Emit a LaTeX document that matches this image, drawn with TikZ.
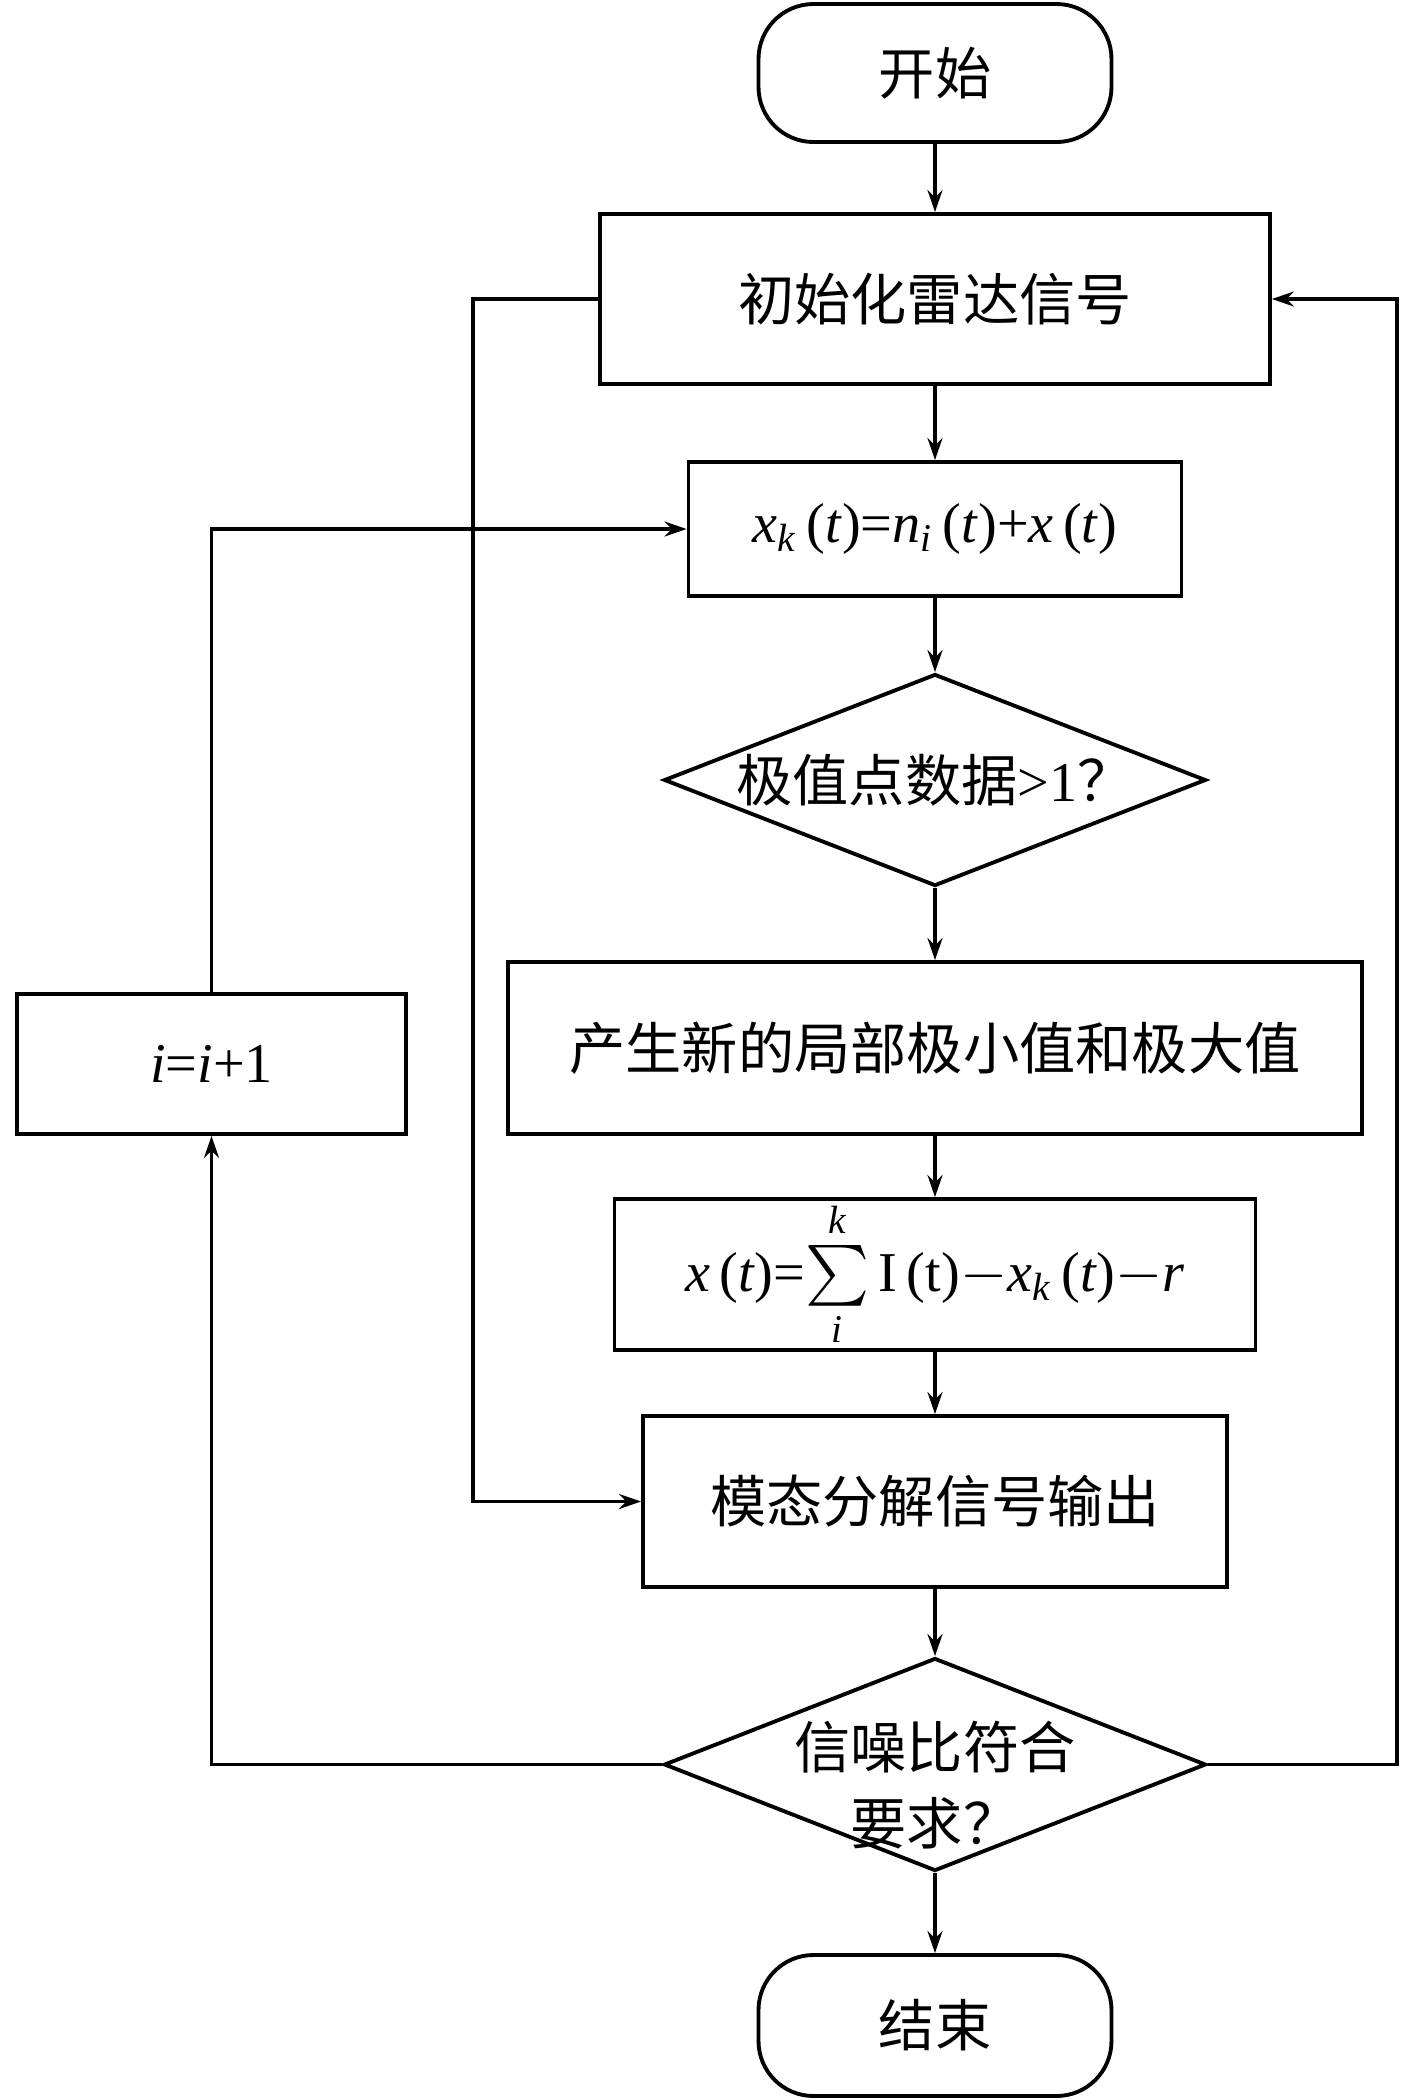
\documentclass[tikz,border=0pt]{standalone}
\usepackage{amsmath}
\usepackage{fontspec}
\setmainfont{Liberation Serif}
\newfontfamily\cjk{Noto Sans CJK SC}
\usetikzlibrary{shapes.geometric,arrows.meta}

\begin{document}
\begin{tikzpicture}[
	font=\fontsize{16}{21.5}\selectfont,
	terminal/.style={ draw, line width=1.1pt, rounded corners=0.55cm, inner sep=0pt, minimum width=3.53cm, minimum height=1.38cm },
	process/.style={ draw, line width=1.1pt, inner sep=0pt },
	decision/.style={ draw, line width=1.1pt, diamond, aspect=2.6, inner sep=0pt, minimum width=5.42cm, minimum height=2.12cm },
	arrow/.style={ line width=0.9pt, -{Stealth[length=2.2mm,width=1.5mm]} }
]

\useasboundingbox (0,0) rectangle (14.17,-21);

\node[terminal] at (9.35,-0.73) (start) {\cjk 开始};
\node[process, minimum width=6.7cm, minimum height=1.7cm] at (9.35,-2.99) (init) {\cjk 初始化雷达信号};
\node[process, minimum width=4.93cm, minimum height=1.34cm] at (9.35,-5.29) (xk) {\textit{x}\textsubscript{\textit{k}}\,(\textit{t})=\textit{n}\textsubscript{\textit{i}}\,(\textit{t})+\textit{x}\,(\textit{t})};
\node[decision] at (9.35,-7.8) (dec1) {{\cjk 极值点数据}>1{\cjk ？}};
\node[process, minimum width=8.54cm, minimum height=1.72cm] at (9.35,-10.48) (gen) {\cjk 产生新的局部极小值和极大值};
\node[process, minimum width=6.41cm, minimum height=1.51cm] at (9.35,-12.745) (sum) {\textit{x}\,(\textit{t})=$\sum\limits_{\textit{i}}^{\textit{k}}$\,I\,(t)$-$\textit{x}\textsubscript{\textit{k}}\,(\textit{t})$-$\textit{r}};
\node[process, minimum width=5.84cm, minimum height=1.71cm] at (9.35,-15.015) (out) {\cjk 模态分解信号输出};
\node[decision, minimum height=2.13cm] at (9.35,-17.645) (dec2) {\smash{\makebox[0pt]{\raisebox{-0.75em}{\begin{tabular}{@{}c@{}}\cjk 信噪比符合\\\cjk 要求？\end{tabular}}}}};
\node[terminal, minimum height=1.41cm] at (9.35,-20.255) (end) {\cjk 结束};
\node[process, minimum width=3.89cm, minimum height=1.4cm] at (2.115,-10.64) (iinc) {\textit{i}=\textit{i}+1};

\coordinate (inner) at (4.73,0);
\coordinate (outer) at (13.97,0);

\draw[arrow] (start) -- (init);
\draw[arrow] (init) -- (xk);
\draw[arrow] (xk) -- (dec1);
\draw[arrow] (dec1) -- (gen);
\draw[arrow] (gen) -- (sum);
\draw[arrow] (sum) -- (out);
\draw[arrow] (out) -- (dec2);
\draw[arrow] (dec2) -- (end);
\draw[arrow] (init.west) -- (init.west -| inner) |- (out.west);
\draw[arrow] (dec2.west) -| (iinc.south);
\draw[arrow] (iinc.north) |- (xk.west);
\draw[arrow] (dec2.east) -- (dec2.east -| outer) |- (init.east);

\end{tikzpicture}
\end{document}
